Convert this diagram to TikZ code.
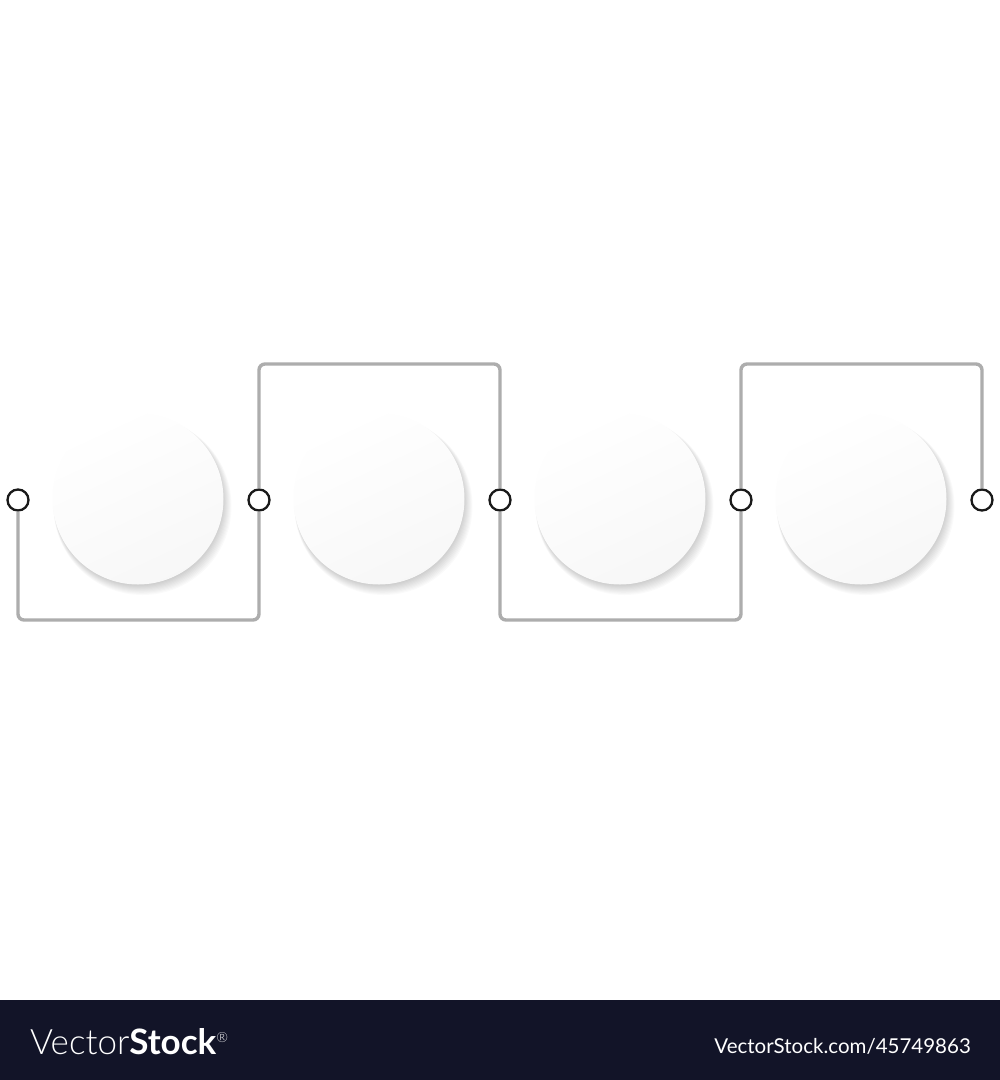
\documentclass[tikz,border=0pt]{standalone}
\usepackage{fontspec}
\setmainfont{Lato}
\newfontfamily\vslight{Lato Light}
\begin{document}
\begin{tikzpicture}[x=1pt,y=-1pt,
  conn/.style={draw=black!32, line width=3.4pt, rounded corners=6pt},
  dotnode/.style={circle, draw=black!90, line width=2.3pt, fill=white, minimum size=21pt, inner sep=0pt},
  bignode/.style={circle, minimum size=171pt, inner sep=0pt}]
\useasboundingbox (0,0) rectangle (1000,1080);
\fill[white] (0,0) rectangle (1000,1000);
% banner
\fill[fill={rgb,255:red,18;green,20;blue,40}] (0,1000) rectangle (1000,1080);
\node[anchor=base west, text=white, font=\fontsize{35}{40}\selectfont, inner sep=0pt] (logo) at (30,1054) {{\vslight Vector}\textbf{Stock}\raisebox{12pt}{\fontsize{14}{14}\selectfont\vslight ®}};
\node[anchor=base east, text=white, font=\fontsize{20.5}{24}\selectfont, inner sep=0pt] (url) at (971,1053) {VectorStock.com/45749863};
% big circles with shadows
\foreach \i/\cx in {1/138,2/379,3/620,4/861}{
  \foreach \k in {10,9,...,1}{
    \fill[black, opacity=0.018] (\cx+\k*0.45,500+\k*0.6) circle (84+\k*0.5);
  }
  \shade[top color=white, bottom color=black!3, shading angle=25] (\cx,499) circle (85.5);
  \node[bignode] (c\i) at (\cx,499) {};
}
% dots
\foreach \i/\x in {1/18,2/259,3/500,4/741,5/982}{
  \node[dotnode] (d\i) at (\x,500) {};
}
% connectors
\draw[conn] (d1.south) -- (d1.south |- 0,620) -- (d2.south |- 0,620) -- (d2.south);
\draw[conn] (d2.north) -- (d2.north |- 0,364) -- (d3.north |- 0,364) -- (d3.north);
\draw[conn] (d3.south) -- (d3.south |- 0,620) -- (d4.south |- 0,620) -- (d4.south);
\draw[conn] (d4.north) -- (d4.north |- 0,364) -- (d5.north |- 0,364) -- (d5.north);
\end{tikzpicture}
\end{document}
